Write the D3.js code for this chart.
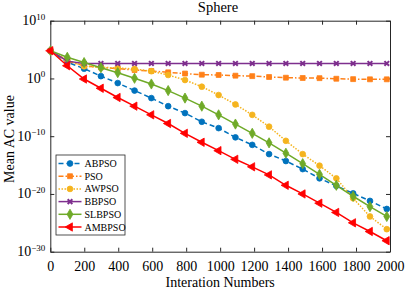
<!DOCTYPE html>
<html>
<head>
<meta charset="utf-8">
<script src="https://cdn.jsdelivr.net/npm/d3@7"></script>
<style>
  body { margin: 0; background: #fff; }
  svg { display: block; font-family: "Liberation Serif", "Times New Roman", serif; }
</style>
</head>
<body>
<div id="chart"></div>
<script>
// iteration numbers where the markers sit
var iterations = [1, 100, 199, 298, 397, 496, 595, 694, 793, 892, 991,
  1090, 1189, 1288, 1387, 1486, 1585, 1684, 1783, 1882, 1981];

// log10 of the mean AC value
var abpso  = [4.8, 2.8, 1.7, 0.4, -0.8, -2.1, -3.4, -4.8, -6.0, -7.5, -8.6,
  -10.2, -11.5, -13.1, -14.3, -15.7, -17.3, -18.6, -19.9, -21.2, -22.6];
var pso    = [4.8, 3.0, 2.2, 1.9, 1.7, 1.46, 1.3, 1.06, 0.85, 0.65, 0.6,
  0.48, 0.4, 0.25, 0.13, 0.08, 0.05, -0.05, -0.12, -0.15, -0.15];
var awpso  = [4.8, 3.2, 2.1, 1.95, 1.8, 1.65, 1.25, 0.6, -0.27, -1.43, -2.87,
  -4.5, -6.3, -8.35, -10.8, -13.1, -15.1, -17.3, -20.75, -23.9, -26.1];
var bbpso  = [4.8, 3.0, 2.6, 2.6, 2.6, 2.6, 2.6, 2.6, 2.6, 2.6, 2.6,
  2.6, 2.6, 2.6, 2.6, 2.6, 2.6, 2.6, 2.6, 2.6, 2.6];
var slbpso = [4.8, 3.66, 2.75, 1.86, 1.0, 0.03, -0.96, -2.1, -3.4, -4.8, -6.3,
  -7.9, -9.5, -11.15, -12.95, -14.75, -16.6, -18.5, -20.4, -22.2, -23.9];
var ambpso = [4.8, 2.2, -0.1, -1.7, -3.3, -4.8, -6.3, -7.8, -9.5, -11.05, -12.5,
  -14.0, -15.3, -16.7, -18.5, -20.0, -21.6, -23.2, -25.0, -26.5, -28.1];

var xTicks = [0, 200, 400, 600, 800, 1000, 1200, 1400, 1600, 1800, 2000];
var yTicks = [1e10, 1e0, 1e-10, 1e-20, 1e-30];

var series = [
  { name: "ABPSO",  values: abpso,  color: "#0072BD", dash: "5,3",     marker: "circle" },
  { name: "PSO",    values: pso,    color: "#FF8019", dash: "5,2,1.5,2", marker: "square" },
  { name: "AWPSO",  values: awpso,  color: "#F5B41E", dash: "1.5,1.5", marker: "circle" },
  { name: "BBPSO",  values: bbpso,  color: "#7E2F8E", dash: null,      marker: "x" },
  { name: "SLBPSO", values: slbpso, color: "#6FAA28", dash: null,      marker: "diamond" },
  { name: "AMBPSO", values: ambpso, color: "#FF0000", dash: null,      marker: "left" }
];

var width = 406, height = 293;
var margin = { left: 50.3, right: 16, top: 20.7, bottom: 41.3 };

var svg = d3.select("#chart").append("svg")
  .attr("width", width)
  .attr("height", height);

var x = d3.scaleLinear().domain([0, 2000]).range([margin.left, width - margin.right]);
var y = d3.scaleLog().domain([1e-30, 1e10]).range([height - margin.bottom, margin.top]);

var axisColor = "#262626";

// frame + ticks (inward, mirrored)
var gb = svg.append("g").attr("transform", "translate(0," + y.range()[0] + ")")
  .call(d3.axisBottom(x).tickValues(xTicks).tickSizeInner(-4).tickSizeOuter(0).tickPadding(9).tickFormat(d3.format("d")));
var gt = svg.append("g").attr("transform", "translate(0," + y.range()[1] + ")")
  .call(d3.axisTop(x).tickValues(xTicks).tickSizeInner(-4).tickSizeOuter(0).tickFormat(""));
var gl = svg.append("g").attr("transform", "translate(" + x.range()[0] + ",0)")
  .call(d3.axisLeft(y).tickValues(yTicks).tickSizeInner(-4).tickSizeOuter(0).tickFormat(""));
var gr = svg.append("g").attr("transform", "translate(" + x.range()[1] + ",0)")
  .call(d3.axisRight(y).tickValues(yTicks).tickSizeInner(-4).tickSizeOuter(0).tickFormat(""));

[gb, gt, gl, gr].forEach(function (g) {
  g.select(".domain").attr("stroke", axisColor).attr("stroke-width", 1);
  g.selectAll(".tick line").attr("stroke", axisColor).attr("stroke-width", 1);
});
gb.selectAll(".tick text")
  .attr("fill", "#000")
  .style("font-size", "14px")
  .style("font-family", "Liberation Serif, serif");

// y tick labels as 10 with a superscript exponent
yTicks.forEach(function (t) {
  var e = Math.round(Math.log10(t));
  var txt = svg.append("text")
    .attr("x", x.range()[0] - 5)
    .attr("y", y(t) + 4.5)
    .attr("text-anchor", "end")
    .attr("fill", "#000")
    .style("font-size", "14px");
  txt.append("tspan").text("10");
  txt.append("tspan")
    .attr("dy", -5.5)
    .style("font-size", "9px")
    .text(e < 0 ? "\u2212" + (-e) : String(e));
});

function markerPath(type) {
  if (type === "circle") return d3.symbol().type(d3.symbolCircle).size(26)();
  if (type === "square") return d3.symbol().type(d3.symbolSquare).size(24)();
  if (type === "diamond") return d3.symbol().type(d3.symbolDiamond).size(30)();
  if (type === "x") return d3.symbol().type(d3.symbolX).size(16)();
  if (type === "left") return d3.symbol().type(d3.symbolTriangle).size(30)();
  return null;
}

function drawMarker(sel, s) {
  var p = sel.append("path").attr("d", markerPath(s.marker));
  if (s.marker === "x") {
    p.attr("fill", "none").attr("stroke", s.color).attr("stroke-width", 2);
  } else {
    p.attr("fill", s.color).attr("stroke", s.color).attr("stroke-width", 0.8);
  }
  if (s.marker === "left") p.attr("transform", (p.attr("transform") || "") + " rotate(-90)");
  return p;
}

var line = d3.line()
  .x(function (d) { return x(d[0]); })
  .y(function (d) { return y(Math.pow(10, d[1])); });

var plot = svg.append("g");

series.forEach(function (s) {
  var pts = iterations.map(function (it, i) { return [it, s.values[i]]; });
  var g = plot.append("g");
  g.append("path")
    .datum(pts)
    .attr("d", line)
    .attr("fill", "none")
    .attr("stroke", s.color)
    .attr("stroke-width", 1.5)
    .attr("stroke-dasharray", s.dash);
  g.selectAll("g.m")
    .data(pts)
    .enter()
    .append("g")
    .attr("class", "m")
    .attr("transform", function (d) { return "translate(" + x(d[0]) + "," + y(Math.pow(10, d[1])) + ")"; })
    .each(function () { drawMarker(d3.select(this), s); });
});

// legend
var lg = svg.append("g").attr("transform", "translate(56,155)");
lg.append("rect")
  .attr("width", 69).attr("height", 80)
  .attr("fill", "#fff")
  .attr("stroke", axisColor)
  .attr("stroke-width", 0.8);

series.forEach(function (s, i) {
  var row = lg.append("g").attr("transform", "translate(0," + (8.5 + i * 12.7) + ")");
  row.append("line")
    .attr("x1", 2.5).attr("x2", 25.5)
    .attr("stroke", s.color)
    .attr("stroke-width", 1.5)
    .attr("stroke-dasharray", s.dash);
  drawMarker(row.append("g").attr("transform", "translate(14,0)"), s);
  row.append("text")
    .attr("x", 28.5)
    .attr("y", 3.5)
    .attr("fill", "#000")
    .style("font-size", "10px")
    .text(s.name);
});

// titles
svg.append("text")
  .attr("x", 218).attr("y", 12)
  .attr("text-anchor", "middle")
  .style("font-size", "14.5px")
  .text("Sphere");

svg.append("text")
  .attr("x", (x.range()[0] + x.range()[1]) / 2).attr("y", 287)
  .attr("text-anchor", "middle")
  .style("font-size", "14px")
  .text("Interation Numbers");

svg.append("text")
  .attr("transform", "translate(14," + 139 + ") rotate(-90)")
  .attr("text-anchor", "middle")
  .style("font-size", "14px")
  .text("Mean AC value");
</script>
</body>
</html>
